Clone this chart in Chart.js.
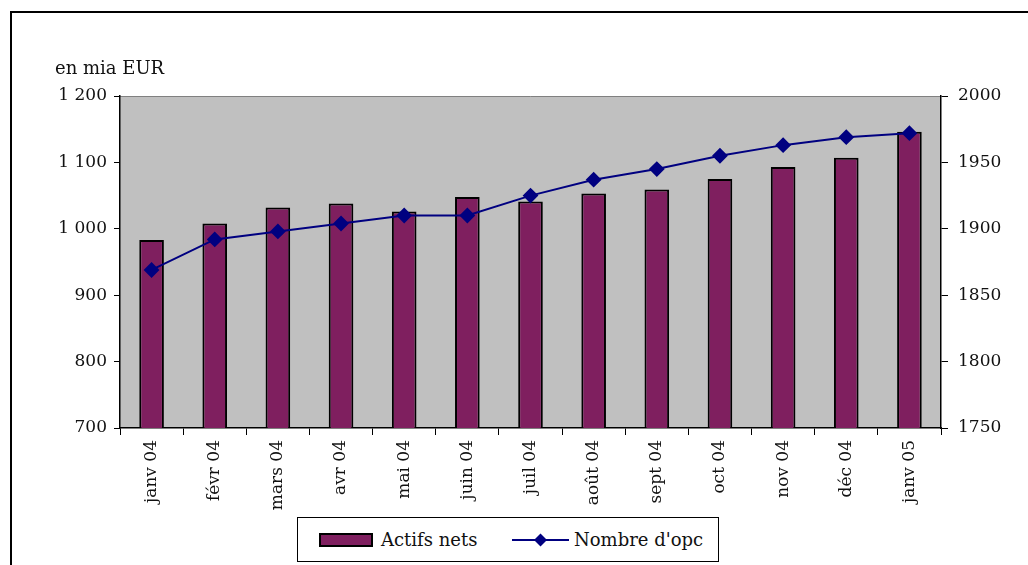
<!DOCTYPE html>
<html>
<head>
<meta charset="utf-8">
<script src="https://cdn.jsdelivr.net/npm/chart.js@4.4.1/dist/chart.umd.min.js"></script>
<style>
  html, body { margin: 0; padding: 0; background: #fff; overflow: hidden; }
  #wrap { position: relative; width: 1028px; height: 565px; }
  #c { position: absolute; left: 0; top: 0; }
  #legend {
    position: absolute; left: 297px; top: 517px; width: 422px; height: 45px;
    border: 1.5px solid #000; background: #fff; box-sizing: border-box;
    font-family: "DejaVu Serif", serif; font-size: 18px; color: #111;
  }
  .item { position: absolute; top: 0; height: 100%; display: flex; align-items: center; }
  .item svg { margin-right: 8px; }
</style>
</head>
<body>
<div id="wrap">
  <canvas id="c" width="1028" height="565"></canvas>
  <div id="legend"></div>
</div>
<script>
const categories = ["janv 04","févr 04","mars 04","avr 04","mai 04","juin 04","juil 04","août 04","sept 04","oct 04","nov 04","déc 04","janv 05"];
const actifsNets = [983, 1008, 1032, 1038, 1026, 1048, 1041, 1053, 1059, 1075, 1093, 1107, 1146];
const nombreOpc = [1869, 1892, 1898, 1904, 1910, 1910, 1925, 1937, 1945, 1955, 1963, 1969, 1972];
const leftTicks = [700, 800, 900, 1000, 1100, 1200];
const rightTicks = [1750, 1800, 1850, 1900, 1950, 2000];
const unitLabel = "en mia EUR";
const seriesNames = ["Actifs nets", "Nombre d'opc"];

const BAR_COLOR = "#7F1F5F";
const LINE_COLOR = "#000080";
const FONT = "DejaVu Serif";

function fmtThousands(v) {
  const s = String(Math.round(v));
  return s.replace(/\B(?=(\d{3})+(?!\d))/g, " ");
}

const decor = {
  id: "decor",
  beforeDraw(chart) {
    const ctx = chart.ctx, a = chart.chartArea;
    ctx.save();
    ctx.fillStyle = "#C0C0C0";
    ctx.fillRect(a.left, a.top, a.right - a.left, a.bottom - a.top);
    ctx.strokeStyle = "#808080";
    ctx.lineWidth = 1;
    ctx.beginPath();
    ctx.moveTo(a.left, a.top + 0.5);
    ctx.lineTo(a.right, a.top + 0.5);
    ctx.stroke();
    ctx.strokeStyle = "#000";
    ctx.lineWidth = 2;
    ctx.strokeRect(11, 12, 1100, 700);
    ctx.restore();
  },
  afterDraw(chart) {
    const ctx = chart.ctx;
    ctx.save();
    ctx.fillStyle = "#111";
    ctx.font = "18px '" + FONT + "'";
    ctx.textBaseline = "alphabetic";
    ctx.textAlign = "left";
    ctx.fillText(unitLabel, 55, 74);
    ctx.restore();
  }
};

function build() {
  const chart = new Chart(document.getElementById("c"), {
    type: "bar",
    data: {
      labels: categories,
      datasets: [
        {
          type: "line",
          label: seriesNames[1],
          data: nombreOpc,
          yAxisID: "y2",
          borderColor: LINE_COLOR,
          backgroundColor: LINE_COLOR,
          borderWidth: 2,
          pointStyle: "rectRot",
          pointRadius: 6.5,
          pointHoverRadius: 6.5,
          pointBackgroundColor: LINE_COLOR,
          pointBorderColor: LINE_COLOR,
          tension: 0,
          order: 0
        },
        {
          type: "bar",
          label: seriesNames[0],
          data: actifsNets,
          yAxisID: "y",
          backgroundColor: BAR_COLOR,
          borderColor: "#000",
          borderWidth: 2,
          barPercentage: 0.39,
          categoryPercentage: 1.0,
          order: 1
        }
      ]
    },
    options: {
      responsive: false,
      animation: false,
      devicePixelRatio: 1,
      layout: { padding: { top: 96, left: 0, right: 0, bottom: 0 } },
      plugins: {
        legend: { display: false },
        title: { display: false },
        tooltip: { enabled: false }
      },
      scales: {
        x: {
          grid: { drawOnChartArea: false, drawTicks: true, tickLength: 7, color: "#000", offset: true },
          border: { display: true, color: "#000", width: 1.5 },
          ticks: {
            color: "#111", font: { family: FONT, size: 17 },
            maxRotation: 90, minRotation: 90, padding: 5, autoSkip: false
          },
          afterFit(s) { s.height = 137; }
        },
        y: {
          position: "left",
          min: 700, max: 1200,
          afterBuildTicks(s) { s.ticks = leftTicks.map(v => ({ value: v })); },
          grid: { drawOnChartArea: false, drawTicks: true, tickLength: 6, color: "#000" },
          border: { display: true, color: "#000", width: 1.5 },
          ticks: {
            color: "#111", font: { family: FONT, size: 17 }, padding: 7,
            callback: v => fmtThousands(v)
          },
          afterFit(s) { s.width = 120; }
        },
        y2: {
          position: "right",
          min: 1750, max: 2000,
          afterBuildTicks(s) { s.ticks = rightTicks.map(v => ({ value: v })); },
          grid: { drawOnChartArea: false, drawTicks: true, tickLength: 7, color: "#000" },
          border: { display: true, color: "#000", width: 1.5 },
          ticks: {
            color: "#111", font: { family: FONT, size: 17 }, padding: 10,
            callback: v => String(v)
          },
          afterFit(s) { s.width = 87; }
        }
      }
    },
    plugins: [decor]
  });

  const lg = document.getElementById("legend");
  const bar = chart.data.datasets[1];
  const line = chart.data.datasets[0];
  const i1 = document.createElement("div");
  i1.className = "item";
  i1.style.left = "21px";
  i1.innerHTML = '<svg width="54" height="14"><rect x="1" y="1" width="52" height="12" fill="' + bar.backgroundColor + '" stroke="#000" stroke-width="2"/></svg>';
  const t1 = document.createElement("span"); t1.textContent = bar.label; i1.appendChild(t1);
  const i2 = document.createElement("div");
  i2.className = "item";
  i2.style.left = "214px";
  i2.innerHTML = '<svg width="58" height="16" style="margin-right:4px"><line x1="0" y1="8" x2="57" y2="8" stroke="' + line.borderColor + '" stroke-width="2"/><polygon points="28.5,1.5 35,8 28.5,14.5 22,8" fill="' + line.borderColor + '"/></svg>';
  const t2 = document.createElement("span"); t2.textContent = line.label; i2.appendChild(t2);
  lg.appendChild(i1); lg.appendChild(i2);
}

build();
</script>
</body>
</html>
